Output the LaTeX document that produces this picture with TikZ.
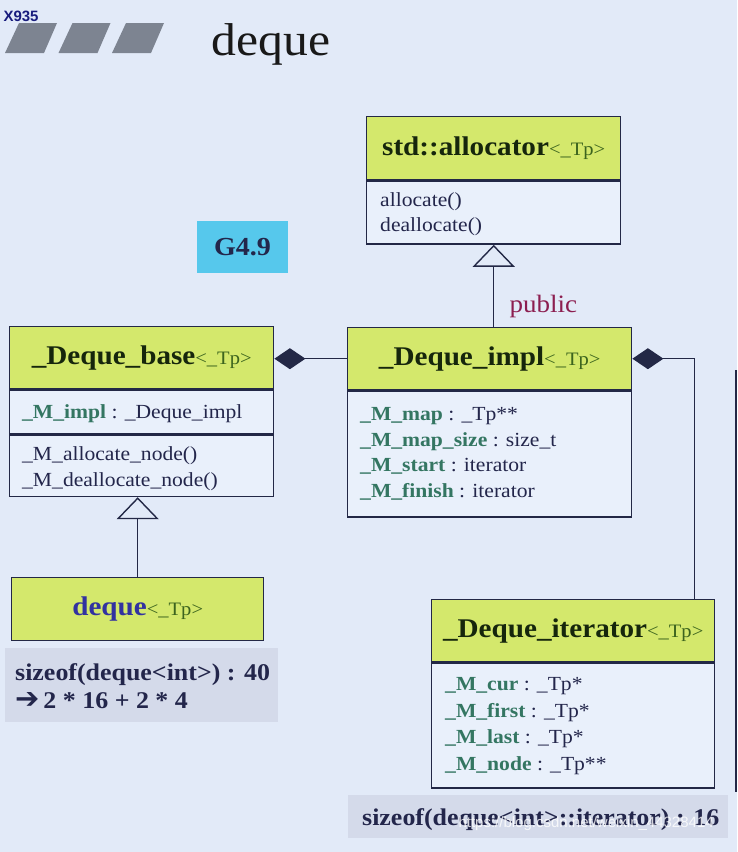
\documentclass[tikz,border=0pt]{standalone}
\usepackage{fontspec}
\setmainfont{Liberation Serif}[FakeStretch=1.08]
\newfontfamily\symfont{DejaVu Sans}
\newfontfamily\wmfont{Liberation Sans}
\usetikzlibrary{arrows.meta,positioning}

\definecolor{bgblue}{RGB}{226,234,248}
\definecolor{bodyblue}{RGB}{233,240,251}
\definecolor{hdrgreen}{RGB}{212,232,108}
\definecolor{umlline}{RGB}{35,40,70}
\definecolor{titlegreen}{RGB}{22,38,12}
\definecolor{tpgreen}{RGB}{60,100,30}
\definecolor{memgreen}{RGB}{52,118,98}
\definecolor{typeblue}{RGB}{35,38,75}
\definecolor{barfill}{RGB}{125,132,145}
\definecolor{vercyan}{RGB}{86,200,236}
\definecolor{notegray}{RGB}{212,218,234}
\definecolor{publicred}{RGB}{140,30,80}
\definecolor{dequeblue}{RGB}{50,50,160}

\newcommand{\tp}{{\fontsize{19}{19}\selectfont\mdseries\color{tpgreen}<\_Tp>}}
\newcommand{\mem}[1]{{\bfseries\color{memgreen}#1}}

\tikzset{
  hdr/.style={draw=umlline, fill=hdrgreen, line width=1.4pt, anchor=north west, inner sep=0pt,
    font=\fontsize{27}{27}\selectfont\bfseries, text=titlegreen},
  body/.style={draw=umlline, fill=bodyblue, line width=1.4pt, anchor=north west, inner sep=0pt},
  members/.style={anchor=north west, inner sep=0pt, align=left, text=typeblue,
    font=\fontsize{20}{25.5}\selectfont},
  note/.style={fill=notegray, anchor=north west, inner sep=0pt},
  notetext/.style={anchor=north west, inner sep=0pt, align=left, text=typeblue,
    font=\fontsize{24}{28}\selectfont\bfseries},
  inherit/.style={draw=umlline, line width=1.4pt,
    -{Triangle[open, length=22pt, width=42pt]}},
  composite/.style={draw=umlline, line width=1.4pt, -{Diamond[length=31pt, width=21pt]}},
}

\begin{document}
\begin{tikzpicture}[x=1pt, y=-1pt]
\useasboundingbox (0,0) rectangle (737,852);
\fill[bgblue] (0,0) rectangle (737,852);

\node[anchor=base west, text=umlline!70!blue, font=\wmfont\bfseries\fontsize{15}{15}\selectfont] (rec) at (0,21) {X935};
\foreach \b in {5,58.5,112}
  \fill[barfill] (\b,53) -- (\b+14,23) -- (\b+52,23) -- (\b+39,53) -- cycle;
\node[anchor=base west, font=\fontsize{46}{46}\selectfont, text=black!90] (ttl) at (208,55) {deque};

% std::allocator
\node[hdr, minimum width=254pt, minimum height=63pt] (alloc) at (366,116) {std::allocator\tp};
\node[body, minimum width=254pt, minimum height=63pt] (allocbody) at (alloc.south west) {};
\node[members] (allocm) at ([xshift=14pt, yshift=-12pt]allocbody.north west) {allocate()\\deallocate()};

\node[fill=vercyan, minimum width=91pt, minimum height=52pt, inner sep=0pt,
  font=\fontsize{26}{26}\selectfont\bfseries, text=typeblue] (ver) at (242.5,247) {G4.9};

% _Deque_base
\node[hdr, minimum width=264pt, minimum height=62pt] (base) at (9,326) {\_Deque\_base\tp};
\node[body, minimum width=264pt, minimum height=44pt] (basefld) at (base.south west) {};
\node[body, minimum width=264pt, minimum height=61pt] (basefn) at (basefld.south west) {};
\node[members] (basem1) at ([xshift=13pt, yshift=-15pt]basefld.north west) {\mem{\_M\_impl} : \_Deque\_impl};
\node[members] (basem2) at ([xshift=13pt, yshift=-12pt]basefn.north west) {\_M\_allocate\_node()\\\_M\_deallocate\_node()};

% _Deque_impl
\node[hdr, minimum width=284pt, minimum height=62pt] (impl) at (347,327) {\_Deque\_impl\tp};
\node[body, minimum width=284pt, minimum height=126pt] (implbody) at (impl.south west) {};
\node[members] (implm) at ([xshift=13pt, yshift=-17pt]implbody.north west)
  {\mem{\_M\_map} : \_Tp**\\\mem{\_M\_map\_size} : size\_t\\\mem{\_M\_start} : iterator\\\mem{\_M\_finish} : iterator};

% deque
\node[hdr, minimum width=252pt, minimum height=63pt] (deq) at (11,577) {{\color{dequeblue}deque}\tp};
\node[note, minimum width=273pt, minimum height=74pt] (dqsize) at (5,648) {};
\node[notetext] (dqsizetxt) at ([xshift=10pt, yshift=-15.5pt]dqsize.north west)
  {sizeof(deque<int>) : 40\\{\symfont\bfseries\fontsize{29}{28}\selectfont ➔}\,2 * 16 + 2 * 4};

% _Deque_iterator
\node[hdr, minimum width=283pt, minimum height=62pt] (iter) at (431,599) {\_Deque\_iterator\tp};
\node[body, minimum width=283pt, minimum height=125pt] (iterbody) at (iter.south west) {};
\node[members, font=\fontsize{20}{26.5}\selectfont] (iterm) at ([xshift=14pt, yshift=-15pt]iterbody.north west)
  {\mem{\_M\_cur} : \_Tp*\\\mem{\_M\_first} : \_Tp*\\\mem{\_M\_last} : \_Tp*\\\mem{\_M\_node} : \_Tp**};
\node[note, minimum width=380pt, minimum height=43pt] (itsize) at (348,795) {};
\node[notetext] (itsizetxt) at ([xshift=14pt, yshift=-13.5pt]itsize.north west)
  {sizeof(deque<int>::iterator) : 16};

\draw[inherit] (impl.north -| allocbody.south) -- (allocbody.south);
\node[anchor=base west, text=publicred, font=\fontsize{25}{25}\selectfont] (pub) at (506,312) {public};
\draw[inherit] (deq.north) -- (deq.north |- basefn.south);
\draw[composite] (impl.west) -- (impl.west -| base.east);
\draw[composite] ([xshift=-21pt]iter.north east) |- (impl.east);

\draw[umlline, line width=1.6pt] (736,370) -- (736,792);
\node[anchor=base west, text=white, opacity=0.8, font=\wmfont\fontsize{15}{15}\selectfont] (wm) at (455,827)
  {https://blog.csdn.net/weixin\_44328414};
\end{tikzpicture}
\end{document}
